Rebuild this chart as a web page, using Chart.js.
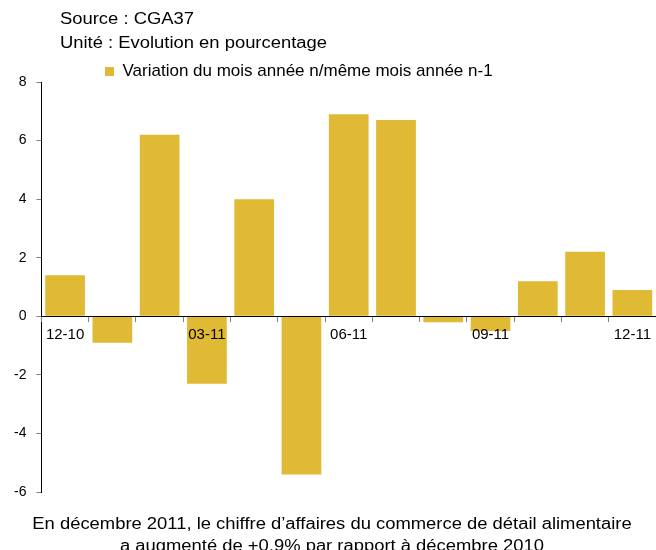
<!DOCTYPE html>
<html>
<head>
<meta charset="utf-8">
<script src="https://cdn.jsdelivr.net/npm/chart.js@4"></script>
<style>
    body { margin: 0; background: #fff; }
    #wrap { position: relative; width: 656px; height: 550px; font-family: "Liberation Sans", Arial, sans-serif; color: #000; }
    #chart { position: absolute; left: 0; top: 0; }
    .header { position: absolute; left: 60px; top: 7px; font-size: 16px; line-height: 24px; transform: scaleX(1.15); transform-origin: left top; white-space: nowrap; }
    .caption { position: absolute; left: 0; width: 664px; top: 513px; font-size: 16px; line-height: 22px; text-align: center; transform: scaleX(1.15); transform-origin: 332px 0; white-space: nowrap; }
</style>
</head>
<body>
<div id="wrap">
    <canvas id="chart" width="656" height="550"></canvas>
    <div class="header">Source : CGA37<br>Unité : Evolution en pourcentage</div>
    <div class="caption">En décembre 2011, le chiffre d’affaires du commerce de détail alimentaire<br>a augmenté de +0,9% par rapport à décembre 2010</div>
</div>
<script>
// Monthly data, Dec 2010 -> Dec 2011
const months = ['12-10', '01-11', '02-11', '03-11', '04-11', '05-11', '06-11',
                '07-11', '08-11', '09-11', '10-11', '11-11', '12-11'];
const variation = [1.4, -0.9, 6.2, -2.3, 4.0, -5.4, 6.9, 6.7, -0.2, -0.5, 1.2, 2.2, 0.9];
const seriesLabel = 'Variation du mois année n/même mois année n-1';
const yTicks = [-6, -4, -2, 0, 2, 4, 6, 8];

const barColor = '#E0B935';
const fontFamily = '"Liberation Sans", Arial, sans-serif';

// the legend sits left of centre and overlaps the top of the plot in the original
const legendShift = {
    id: 'legendShift',
    afterLayout(chart) {
        const lg = chart.legend;
        if (lg) {
            const h = lg.bottom - lg.top;
            lg.left = 105;
            lg.top = 63;
            lg.bottom = lg.top + h;
        }
    }
};

const ctx = document.getElementById('chart').getContext('2d');
new Chart(ctx, {
    type: 'bar',
    data: {
        labels: months,
        datasets: [{
            label: seriesLabel,
            data: variation,
            backgroundColor: barColor,
            borderWidth: 0,
            categoryPercentage: 1,
            barPercentage: 0.84
        }]
    },
    options: {
        responsive: false,
        animation: false,
        layout: { padding: { top: 55, left: 4, right: 0, bottom: 58 } },
        plugins: {
            legend: {
                position: 'top',
                align: 'start',
                labels: {
                    boxWidth: 9,
                    boxHeight: 9,
                    padding: 0,
                    color: '#000',
                    font: { family: fontFamily, size: 17 }
                }
            },
            tooltip: { enabled: false }
        },
        scales: {
            x: {
                position: { y: 0 },
                // month labels and axis line are drawn over the negative bars
                grid: { drawOnChartArea: false, tickLength: 5, color: '#808080', z: 1 },
                border: { color: '#000', width: 1, z: 1 },
                ticks: {
                    z: 1,
                    autoSkip: false,
                    maxRotation: 0,
                    padding: 5,
                    color: '#000',
                    font: { family: fontFamily, size: 15 },
                    callback: function (value, index) {
                        return index % 3 === 0 ? months[index] : '';
                    }
                }
            },
            y: {
                min: yTicks[0],
                max: yTicks[yTicks.length - 1],
                afterBuildTicks: axis => {
                    axis.ticks = yTicks.map(v => ({ value: v }));
                },
                grid: { drawOnChartArea: false, tickLength: 5, color: '#808080' },
                border: { color: '#000', width: 1 },
                ticks: {
                    padding: 10,
                    color: '#000',
                    font: { family: fontFamily, size: 14 }
                }
            }
        }
    },
    plugins: [legendShift]
});
</script>
</body>
</html>
